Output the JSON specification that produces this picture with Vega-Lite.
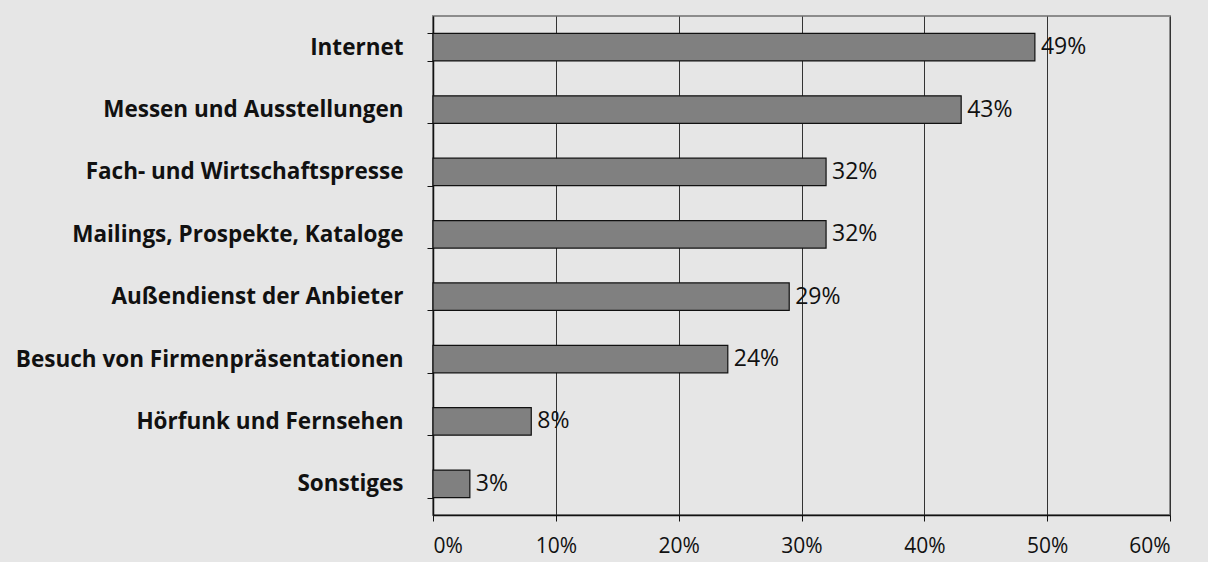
{
  "$schema": "https://vega.github.io/schema/vega-lite/v6.json",
  "width": 737,
  "height": 499,
  "autosize": {"type": "none"},
  "padding": {"left": 433, "top": 16, "right": 38, "bottom": 47},
  "background": "#e6e6e6",
  "config": {
    "view": {"stroke": "#8c8c8c", "strokeWidth": 2},
    "font": "Open Sans"
  },
  "data": {
    "values": [
      {"cat": "Internet", "value": 0.49},
      {"cat": "Messen und Ausstellungen", "value": 0.43},
      {"cat": "Fach- und Wirtschaftspresse", "value": 0.32},
      {"cat": "Mailings, Prospekte, Kataloge", "value": 0.32},
      {"cat": "Außendienst der Anbieter", "value": 0.29},
      {"cat": "Besuch von Firmenpräsentationen", "value": 0.24},
      {"cat": "Hörfunk und Fernsehen", "value": 0.08},
      {"cat": "Sonstiges", "value": 0.03}
    ]
  },
  "encoding": {
    "y": {
      "field": "cat",
      "type": "nominal",
      "sort": null,
      "scale": {"paddingInner": 0.56, "paddingOuter": 0.28},
      "axis": {
        "title": null,
        "labelFontWeight": "bold",
        "labelFontSize": 22.5,
        "labelColor": "#111",
        "labelPadding": 24,
        "tickBand": "extent",
        "tickSize": 6,
        "tickColor": "#111",
        "domainColor": "#111",
        "domainWidth": 1.5,
        "grid": false,
        "labelLimit": 500
      }
    },
    "x": {
      "field": "value",
      "type": "quantitative",
      "scale": {"domain": [0, 0.6], "nice": false},
      "axis": {
        "title": null,
        "format": ".0%",
        "values": [0, 0.1, 0.2, 0.3, 0.4, 0.5, 0.6],
        "labelFontSize": 21,
        "labelColor": "#111",
        "labelPadding": 14,
        "tickSize": 6,
        "tickColor": "#111",
        "domainColor": "#111",
        "domainWidth": 1.5,
        "grid": true,
        "gridColor": "#333",
        "gridWidth": 1,
        "gridOpacity": 1
      }
    }
  },
  "layer": [
    {
      "mark": {"type": "bar", "fill": "#808080", "stroke": "#111", "strokeWidth": 1.2}
    },
    {
      "mark": {"type": "text", "align": "left", "baseline": "middle", "dx": 6, "fontSize": 23, "color": "#111"},
      "encoding": {
        "text": {"field": "value", "type": "quantitative", "format": ".0%"}
      }
    }
  ]
}
